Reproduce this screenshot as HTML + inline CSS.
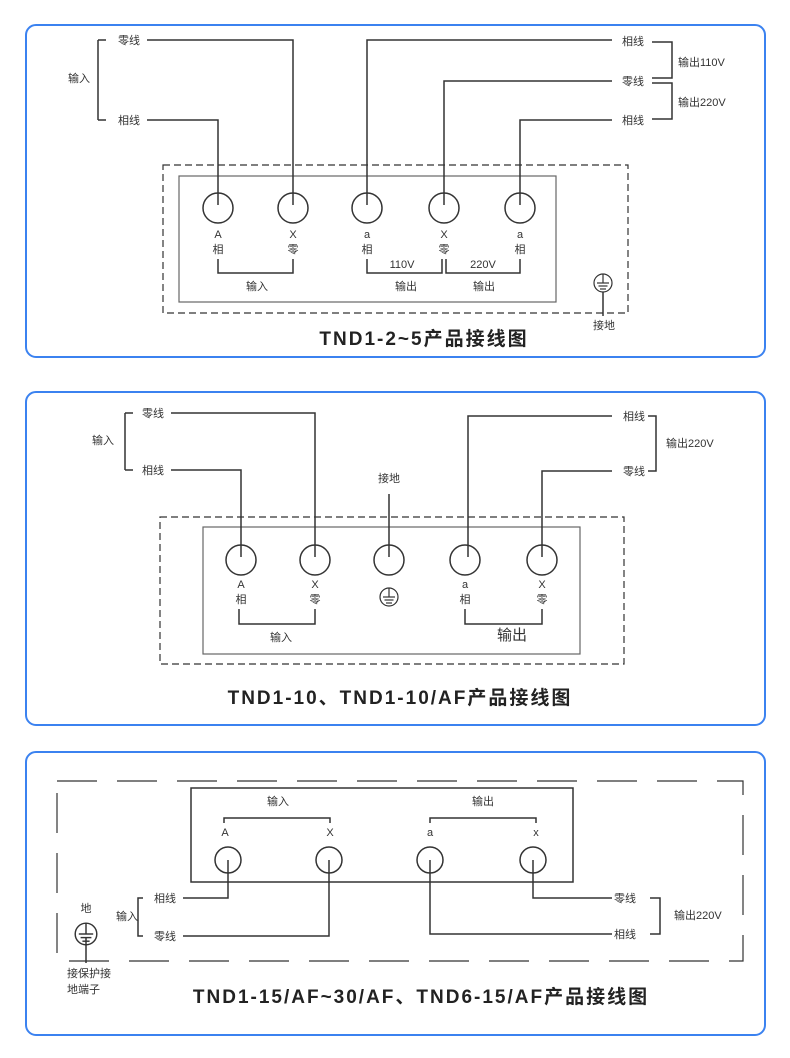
<!DOCTYPE html>
<html><head><meta charset="utf-8"><style>
html,body{margin:0;padding:0;background:#fff;}
svg{display:block;}
text{font-family:"Liberation Sans","Noto Sans CJK SC",sans-serif;fill:#333;font-size:11px;}
.t{font-size:19px;font-weight:bold;fill:#222;letter-spacing:2px;}
</style></head><body>
<svg width="790" height="1058" viewBox="0 0 790 1058" xmlns="http://www.w3.org/2000/svg">
<defs>
<g id="gnd"><circle cx="0" cy="0" r="9" fill="none" stroke="#333" stroke-width="1.2"/><line x1="0" y1="-9" x2="0" y2="0" stroke="#333" stroke-width="1.2"/><line x1="-6" y1="0" x2="6" y2="0" stroke="#333" stroke-width="1.2"/><line x1="-4.5" y1="3" x2="4.5" y2="3" stroke="#333" stroke-width="1.2"/><line x1="-3" y1="6" x2="3" y2="6" stroke="#333" stroke-width="1.2"/></g>
</defs>
<g fill="none" stroke="#3b82f0" stroke-width="2">
<rect x="26" y="25" width="739" height="332" rx="10"/>
<rect x="26" y="392" width="739" height="333" rx="10"/>
<rect x="26" y="752" width="739" height="283" rx="10"/>
</g>

<!-- Panel 1 -->
<g fill="none" stroke="#333" stroke-width="1.5">
<rect x="163" y="165" width="465" height="148" stroke-dasharray="7,4" stroke-width="1.2"/>
<rect x="179" y="176" width="377" height="126" stroke="#666" stroke-width="1.2"/>
<circle cx="218" cy="208" r="15"/><circle cx="293" cy="208" r="15"/><circle cx="367" cy="208" r="15"/><circle cx="444" cy="208" r="15"/><circle cx="520" cy="208" r="15"/>
<polyline points="98,40 98,120"/><line x1="98" y1="40" x2="106" y2="40"/><line x1="98" y1="120" x2="106" y2="120"/>
<polyline points="147,40 293,40 293,205"/>
<polyline points="147,120 218,120 218,205"/>
<polyline points="612,40 367,40 367,205"/>
<polyline points="612,81 444,81 444,205"/>
<polyline points="612,120 520,120 520,205"/>
<polyline points="652,42 672,42 672,78 652,78"/>
<polyline points="652,83 672,83 672,119 652,119"/>
<polyline points="218,259 218,273 293,273 293,259"/>
<polyline points="367,259 367,273 442,273 442,259"/>
<polyline points="446,259 446,273 520,273 520,259"/>
<line x1="603" y1="292" x2="603" y2="316"/>
</g>
<use href="#gnd" x="603" y="283"/>
<text x="118" y="44">零线</text><text x="118" y="124">相线</text><text x="68" y="82">输入</text>
<text x="622" y="45">相线</text><text x="622" y="85">零线</text><text x="622" y="124">相线</text>
<text x="678" y="66">输出110V</text><text x="678" y="106">输出220V</text>
<g text-anchor="middle">
<text x="218" y="238">A</text><text x="293" y="238">X</text><text x="367" y="238">a</text><text x="444" y="238">X</text><text x="520" y="238">a</text>
<text x="218" y="253">相</text><text x="293" y="253">零</text><text x="367" y="253">相</text><text x="444" y="253">零</text><text x="520" y="253">相</text>
<text x="402" y="268">110V</text><text x="483" y="268">220V</text>
<text x="257" y="290">输入</text><text x="406" y="290">输出</text><text x="484" y="290">输出</text>
<text x="604" y="329">接地</text>
<text class="t" x="424" y="345">TND1-2~5产品接线图</text>
</g>

<!-- Panel 2 -->
<g fill="none" stroke="#333" stroke-width="1.5">
<rect x="160" y="517" width="464" height="147" stroke-dasharray="7,4" stroke-width="1.2"/>
<rect x="203" y="527" width="377" height="127" stroke="#666" stroke-width="1.2"/>
<circle cx="241" cy="560" r="15"/><circle cx="315" cy="560" r="15"/><circle cx="389" cy="560" r="15"/><circle cx="465" cy="560" r="15"/><circle cx="542" cy="560" r="15"/>
<polyline points="125,413 125,470"/><line x1="125" y1="413" x2="133" y2="413"/><line x1="125" y1="470" x2="133" y2="470"/>
<polyline points="171,413 315,413 315,557"/>
<polyline points="171,470 241,470 241,557"/>
<line x1="389" y1="494" x2="389" y2="557"/>
<polyline points="612,416 468,416 468,557"/>
<polyline points="612,471 542,471 542,557"/>
<polyline points="648,416 656,416 656,471 648,471"/>
<polyline points="239,609 239,624 315,624 315,609"/>
<polyline points="465,609 465,624 542,624 542,609"/>
</g>
<use href="#gnd" x="389" y="597"/>
<text x="142" y="417">零线</text><text x="142" y="474">相线</text><text x="92" y="444">输入</text>
<text x="623" y="420">相线</text><text x="623" y="475">零线</text><text x="666" y="447">输出220V</text>
<g text-anchor="middle">
<text x="389" y="482">接地</text>
<text x="241" y="588">A</text><text x="315" y="588">X</text><text x="465" y="588">a</text><text x="542" y="588">X</text>
<text x="241" y="603">相</text><text x="315" y="603">零</text><text x="465" y="603">相</text><text x="542" y="603">零</text>
<text x="281" y="641">输入</text><text x="512" y="640" style="font-size:15px">输出</text>
<text class="t" x="400" y="704">TND1-10、TND1-10/AF产品接线图</text>
</g>

<!-- Panel 3 -->
<g fill="none" stroke="#333" stroke-width="1.5">
<rect x="57" y="781" width="686" height="180" stroke-dasharray="40,20" stroke-width="1.2"/>
<rect x="191" y="788" width="382" height="94"/>
<polyline points="224,823 224,818 330,818 330,823"/>
<polyline points="430,823 430,818 536,818 536,823"/>
<circle cx="228" cy="860" r="13"/><circle cx="329" cy="860" r="13"/><circle cx="430" cy="860" r="13"/><circle cx="533" cy="860" r="13"/>
<polyline points="183,898 228,898 228,860"/>
<polyline points="183,936 329,936 329,860"/>
<polyline points="143,898 138,898 138,936 143,936"/>
<polyline points="612,898 533,898 533,860"/>
<polyline points="612,934 430,934 430,860"/>
<polyline points="650,898 660,898 660,934 650,934"/>
<line x1="86" y1="938" x2="86" y2="963"/>
</g>
<g transform="translate(86,934) scale(1.2)"><use href="#gnd"/></g>
<text x="154" y="902">相线</text><text x="154" y="940">零线</text><text x="116" y="920">输入</text>
<text x="614" y="902">零线</text><text x="614" y="938">相线</text><text x="674" y="919">输出220V</text>
<text x="67" y="977">接保护接</text><text x="67" y="993">地端子</text>
<g text-anchor="middle">
<text x="278" y="805">输入</text><text x="483" y="805">输出</text>
<text x="225" y="836">A</text><text x="330" y="836">X</text><text x="430" y="836">a</text><text x="536" y="836">x</text>
<text x="86" y="912">地</text>
<text class="t" x="421" y="1003">TND1-15/AF~30/AF、TND6-15/AF产品接线图</text>
</g>
</svg>
</body></html>
